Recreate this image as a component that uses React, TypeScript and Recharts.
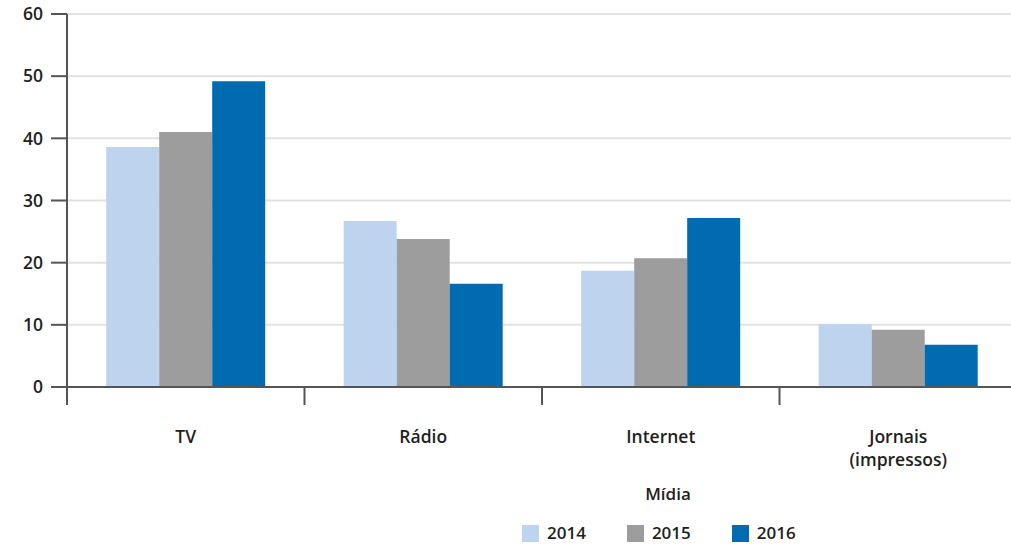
import { BarChart, Bar, XAxis, YAxis, CartesianGrid, Legend } from 'recharts'

const midias = ['TV', 'Rádio', 'Internet', 'Jornais\n(impressos)']
const anos = ['2014', '2015', '2016']
const v2014 = [38.6, 26.7, 18.7, 10.1]
const v2015 = [41.0, 23.8, 20.7, 9.2]
const v2016 = [49.2, 16.6, 27.2, 6.8]
const yTicks = [0, 10, 20, 30, 40, 50, 60]
const cores = ['#bdd3ee', '#9d9d9d', '#006bb0']

const data = midias.map((m, i) => ({
  midia: m,
  '2014': v2014[i],
  '2015': v2015[i],
  '2016': v2016[i],
}))

const FONT = '"Open Sans", sans-serif'
const TEXT = '#231f20'
const AXIS = '#555555'
const CHART_W = 1017
const CHART_H = 546

function MidiaTick(props: any) {
  const { x, y, payload } = props
  const half = payload.offset ?? (CHART_W - 67) / 8
  const lines = String(payload.value).split('\n')
  return (
    <g>
      <line x1={x - half} y1={y} x2={x - half} y2={y + 18} stroke={AXIS} strokeWidth={2} />
      <text x={x} y={y + 56} textAnchor="middle" fill={TEXT} fontSize={17.5} fontWeight={600} fontFamily={FONT}>
        {lines.map((l, i) => (
          <tspan key={i} x={x} dy={i === 0 ? 0 : 23}>{l}</tspan>
        ))}
      </text>
    </g>
  )
}

function Legenda({ payload }: any) {
  return (
    <div style={{ fontFamily: FONT, fontSize: 17, fontWeight: 600, color: TEXT }}>
      <div style={{ textAlign: 'center', height: 24, lineHeight: '24px', paddingRight: 8 }}>Mídia</div>
      <div style={{ display: 'flex', marginTop: 16, height: 22, alignItems: 'center' }}>
        {(payload || []).map((p: any) => (
          <div key={p.value} style={{ display: 'flex', alignItems: 'center', marginRight: 41 }}>
            <span style={{ width: 17, height: 17, background: p.color, display: 'inline-block', marginRight: 8 }} />
            <span style={{ lineHeight: '22px' }}>{p.value}</span>
          </div>
        ))}
      </div>
    </div>
  )
}

export default function App() {
  return (
    <div style={{ position: 'absolute', left: 0, top: 0, width: 1011, height: CHART_H, overflow: 'hidden', background: '#fff' }}>
      <BarChart
        width={CHART_W}
        height={CHART_H}
        data={data}
        margin={{ top: 14, right: 0, left: 0, bottom: 0 }}
        barCategoryGap="16.5%"
        barGap={0}
      >
        <CartesianGrid vertical={false} stroke="#e2e2e2" strokeWidth={2} />
        <XAxis
          dataKey="midia"
          height={159}
          axisLine={{ stroke: AXIS, strokeWidth: 2 }}
          tickLine={false}
          tickSize={0}
          tickMargin={0}
          interval={0}
          tick={<MidiaTick />}
        />
        <YAxis
          width={67}
          domain={[0, 60]}
          ticks={yTicks}
          interval={0}
          axisLine={{ stroke: AXIS, strokeWidth: 2 }}
          tickLine={{ stroke: AXIS, strokeWidth: 2 }}
          tickSize={16}
          tickMargin={8}
          tick={{ fill: TEXT, fontSize: 17.5, fontWeight: 600, fontFamily: FONT }}
        />
        <Legend
          verticalAlign="middle"
          align="center"
          layout="horizontal"
          wrapperStyle={{ left: 522, top: 482, width: 300, height: 62 }}
          content={<Legenda />}
        />
        {anos.map((a, i) => (
          <Bar key={a} dataKey={a} fill={cores[i]} isAnimationActive={false} />
        ))}
      </BarChart>
    </div>
  )
}
